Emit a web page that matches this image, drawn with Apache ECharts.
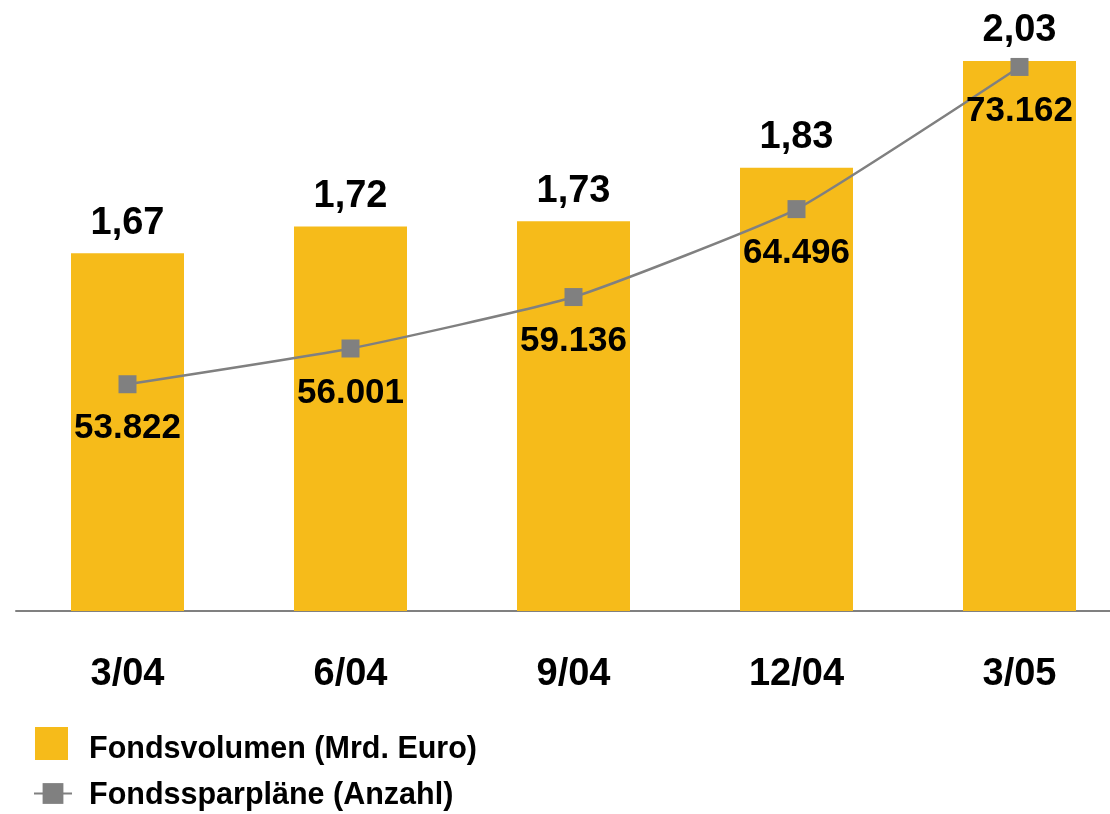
<!DOCTYPE html>
<html>
<head>
<meta charset="utf-8">
<script src="https://cdn.jsdelivr.net/npm/echarts@6/dist/echarts.min.js"></script>
<style>
  html, body { margin: 0; padding: 0; background: #fff; }
  #main { width: 1110px; height: 814px; }
</style>
</head>
<body>
<div id="main"></div>
<script>
const quarters = ['3/04', '6/04', '9/04', '12/04', '3/05'];
const fondsvolumen = [1.67, 1.72, 1.73, 1.83, 2.03];
const sparplaene = [53822, 56001, 59136, 64496, 73162];

const FONT = '"Liberation Sans", Arial, sans-serif';
const YELLOW = '#F6BB1A';
const GREY = '#808080';

const chart = echarts.init(document.getElementById('main'));

const legendText = (shiftDown, gap) => ({
    fontSize: 30.5, fontWeight: 'bold', color: '#000', fontFamily: FONT,
    rich: {
        t: {
            fontSize: 30.5, fontWeight: 'bold', color: '#000', fontFamily: FONT,
            padding: [shiftDown * 2, 0, 0, gap]
        }
    }
});

const option = {
    animation: false,
    textStyle: { fontFamily: FONT },
    grid: { left: 16, top: 51, width: 1115, height: 560, outerBoundsMode: 'none' },
    legend: [
        {
            data: ['Fondsvolumen (Mrd. Euro)'],
            left: 30,
            top: 722,
            icon: 'rect',
            itemWidth: 33,
            itemHeight: 33,
            formatter: '{t|{name}}',
            textStyle: legendText(6, 16)
        },
        {
            data: ['Fondssparpläne (Anzahl)'],
            left: 28,
            top: 775,
            itemWidth: 38,
            itemHeight: 26,
            formatter: '{t|{name}}',
            textStyle: legendText(2, 12)
        }
    ],
    xAxis: {
        type: 'category',
        data: quarters,
        axisLine: { lineStyle: { color: GREY, width: 2 } },
        axisTick: { show: false },
        axisLabel: { margin: 45, fontSize: 38, fontWeight: 'bold', color: '#000', fontFamily: FONT }
    },
    yAxis: [
        { type: 'value', min: 1, max: 1 + 560 / 534, show: false },
        { type: 'value', min: 40000, max: 40000 + 560 / 0.016406, show: false }
    ],
    series: [
        {
            name: 'Fondsvolumen (Mrd. Euro)',
            type: 'bar',
            data: fondsvolumen,
            barWidth: 113,
            itemStyle: { color: YELLOW },
            label: {
                show: true,
                position: 'top',
                distance: 11,
                fontSize: 38,
                fontWeight: 'bold',
                color: '#000',
                fontFamily: FONT,
                formatter: p => p.value.toFixed(2).replace('.', ',')
            }
        },
        {
            name: 'Fondssparpläne (Anzahl)',
            type: 'line',
            yAxisIndex: 1,
            data: sparplaene,
            smooth: 0.15,
            symbol: 'rect',
            symbolSize: 18,
            itemStyle: { color: GREY },
            lineStyle: { color: GREY, width: 2.5 },
            label: {
                show: true,
                position: 'bottom',
                distance: 18,
                fontSize: 35,
                fontWeight: 'bold',
                color: '#000',
                fontFamily: FONT,
                formatter: p => p.value.toLocaleString('de-DE')
            }
        }
    ]
};

chart.setOption(option);
</script>
</body>
</html>
